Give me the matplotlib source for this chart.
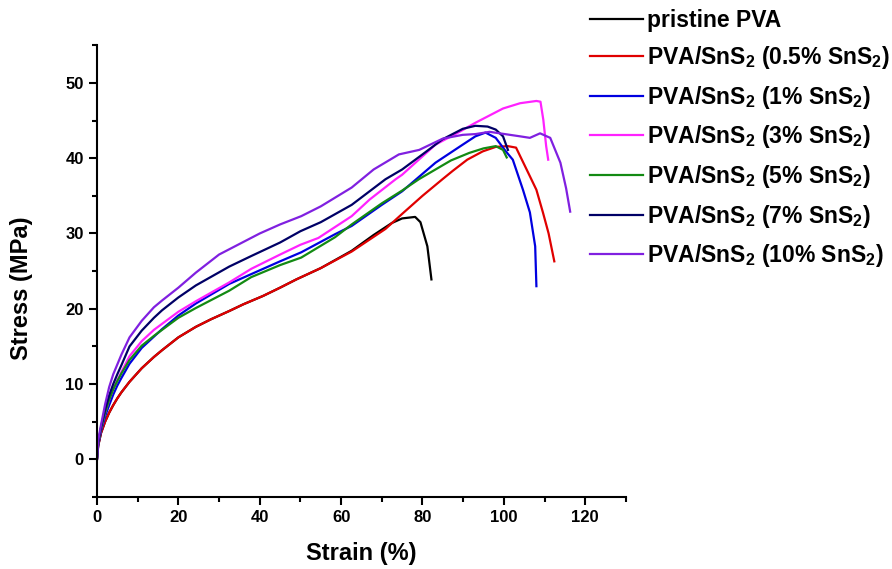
#!/usr/bin/env python3
"""
Stress-strain curves of pristine PVA and PVA/SnS2 composite films.
"""

import matplotlib
matplotlib.use("Agg")
import matplotlib.pyplot as plt

matplotlib.rcParams.update({
    "font.family": "Liberation Sans",
    "font.weight": "bold",
    "axes.labelweight": "bold",
    "mathtext.fontset": "custom",
    "mathtext.rm": "Liberation Sans:bold",
    "mathtext.bf": "Liberation Sans:bold",
    "mathtext.default": "rm",
})

# --- data (strain %, stress MPa) ---
pva_x = [0, 0.3, 1, 2, 3, 4, 5, 6, 8, 11, 14, 16, 20, 24.3, 28, 32.5, 36, 40.8,
         45, 49, 55, 62.6, 68, 72.5, 75, 78.2, 79.5, 81.2, 82.2]
pva_y = [0, 1.8, 3.5, 5.0, 6.2, 7.2, 8.1, 8.9, 10.3, 12.1, 13.6, 14.5, 16.2,
         17.6, 18.6, 19.7, 20.6, 21.7, 22.8, 23.9, 25.4, 27.7, 29.8, 31.4, 32.0,
         32.2, 31.5, 28.3, 23.9]

s05_x = [0, 0.3, 1, 2, 3, 4, 5, 6, 8, 11, 14, 16, 20, 24.3, 28, 32.5, 36, 40.8,
         45, 49, 55, 62.6, 70.9, 75, 80, 84.9, 87.4, 91, 94.8, 98, 101, 103,
         106.4, 108, 109.6, 111, 112.4]
s05_y = [0, 1.8, 3.5, 5.0, 6.2, 7.2, 8.1, 8.9, 10.3, 12.1, 13.6, 14.5, 16.2,
         17.6, 18.6, 19.7, 20.6, 21.7, 22.8, 23.9, 25.4, 27.6, 30.6, 32.6, 35.0,
         37.2, 38.3, 39.8, 40.9, 41.5, 41.6, 41.4, 37.6, 35.8, 32.8, 30.0, 26.3]

s1_x = [0, 0.3, 1, 2, 3, 4, 5, 6, 8, 11, 14, 16, 20, 24.3, 32.5, 37.9, 45, 50.2,
        58.5, 62.6, 70, 75, 83.2, 89.9, 93, 95.5, 98, 100.5, 102.2, 104.7,
        106.4, 107.7, 108]
s1_y = [0, 1.9, 3.8, 5.7, 7.2, 8.6, 9.8, 10.8, 12.7, 14.8, 16.3, 17.3, 19.1,
        20.7, 23.3, 24.6, 26.3, 27.5, 29.9, 31.0, 33.8, 35.6, 39.4, 41.8, 42.9,
        43.4, 42.7, 40.9, 39.8, 35.8, 32.8, 28.3, 23.0]

s3_x = [0, 0.3, 1, 2, 3, 4, 5, 6, 8, 11, 14, 16, 20, 24.3, 32.5, 37.9, 45, 50,
        54.4, 62.6, 67, 73.4, 75, 83.2, 89.1, 93, 99.8, 104, 108, 109, 109.7,
        110.4, 110.9]
s3_y = [0, 2.1, 4.1, 6.2, 7.9, 9.3, 10.5, 11.6, 13.7, 15.7, 17.2, 18.0, 19.6,
        21.0, 23.5, 25.3, 27.2, 28.5, 29.4, 32.3, 34.5, 37.2, 37.8, 41.8, 43.5,
        44.7, 46.6, 47.3, 47.6, 47.5, 45.1, 41.6, 39.8]

s5_x = [0, 0.3, 1, 2, 3, 4, 5, 6, 8, 11, 14, 16, 20, 24.3, 32.5, 37.9, 45, 50.2,
        58.5, 62.6, 70, 75, 79.1, 83.2, 87, 91.5, 95, 98, 99.8, 100.7]
s5_y = [0, 2.1, 4.1, 6.2, 7.9, 9.3, 10.4, 11.4, 13.2, 15.1, 16.4, 17.2, 18.8,
        20.1, 22.4, 24.2, 25.8, 26.8, 29.5, 31.2, 34.0, 35.7, 37.2, 38.5, 39.7,
        40.7, 41.3, 41.6, 41.1, 40.1]

s7_x = [0, 0.3, 1, 2, 3, 4, 5, 6, 8, 11, 14, 16, 20, 24.3, 32.5, 37.9, 45, 50,
        55, 62.6, 70.9, 75, 80, 84.9, 89.9, 93, 96, 98, 99.8, 101]
s7_y = [0, 2.2, 4.3, 6.6, 8.5, 10.0, 11.3, 12.5, 15.0, 17.1, 18.8, 19.8, 21.5,
        23.1, 25.6, 27.0, 28.8, 30.3, 31.5, 33.8, 37.2, 38.5, 40.5, 42.5, 43.9,
        44.3, 44.2, 43.8, 42.9, 41.1]

s10_x = [0, 0.3, 1, 2, 3, 4, 5, 6, 8, 11, 14, 16, 20, 24.3, 30, 35, 40, 45,
         50.2, 55, 62.6, 68, 74.2, 79.2, 85, 89.9, 93, 96.5, 101.5, 104, 106.4,
         108.9, 111.4, 113.9, 115.3, 116.3]
s10_y = [0, 2.5, 4.6, 7.3, 9.6, 11.3, 12.6, 13.9, 16.2, 18.4, 20.2, 21.1, 22.8,
         24.8, 27.2, 28.6, 30.0, 31.2, 32.3, 33.6, 36.1, 38.5, 40.5, 41.1, 42.6,
         43.1, 43.2, 43.5, 43.1, 42.9, 42.7, 43.3, 42.7, 39.4, 36.0, 32.9]

labels = [
    "pristine PVA",
    r"PVA/SnS$_2$ (0.5% SnS$_2$)",
    r"PVA/SnS$_2$ (1% SnS$_2$)",
    r"PVA/SnS$_2$ (3% SnS$_2$)",
    r"PVA/SnS$_2$ (5% SnS$_2$)",
    r"PVA/SnS$_2$ (7% SnS$_2$)",
    r"PVA/SnS$_2$ (10% SnS$_2$)",
]
colors = ["black", "#e00000", "#0000e0", "#ff22ff", "#138a13", "#000066", "#8020e0"]


def main():
    fig = plt.figure(figsize=(8.92, 5.69), dpi=100)
    ax = fig.add_axes([0.1087, 0.1265, 0.593, 0.794])

    series = [(pva_x, pva_y), (s05_x, s05_y), (s1_x, s1_y), (s3_x, s3_y),
              (s5_x, s5_y), (s7_x, s7_y), (s10_x, s10_y)]
    for (x, y), lab, c in zip(series, labels, colors):
        ax.plot(x, y, color=c, lw=1.6, label=lab)

    ax.set_xlim(0, 130)
    ax.set_ylim(-5, 55)
    ax.set_xticks(range(0, 121, 20))
    ax.set_xticks(range(10, 131, 20), minor=True)
    ax.set_yticks(range(0, 51, 10))
    ax.set_yticks(range(-5, 56, 10), minor=True)

    for side in ("top", "right"):
        ax.spines[side].set_visible(False)
    for side in ("left", "bottom"):
        ax.spines[side].set_linewidth(1.5)
    ax.tick_params(which="major", direction="out", length=6, width=1.5, labelsize=12)
    ax.tick_params(which="minor", direction="out", length=3.5, width=1.5)

    ax.set_xlabel("Strain (%)", fontsize=17, labelpad=12)
    ax.set_ylabel("Stress (MPa)", fontsize=17)
    ax.yaxis.set_label_coords(-0.121, 0.462)

    fig.legend(loc="upper left", bbox_to_anchor=(0.661, 0.985), frameon=False,
               fontsize=16.5, handlelength=2.35, handletextpad=0.17,
               labelspacing=0.55, borderaxespad=0, borderpad=0)

    fig.savefig("out.png", dpi=100)


if __name__ == "__main__":
    main()
